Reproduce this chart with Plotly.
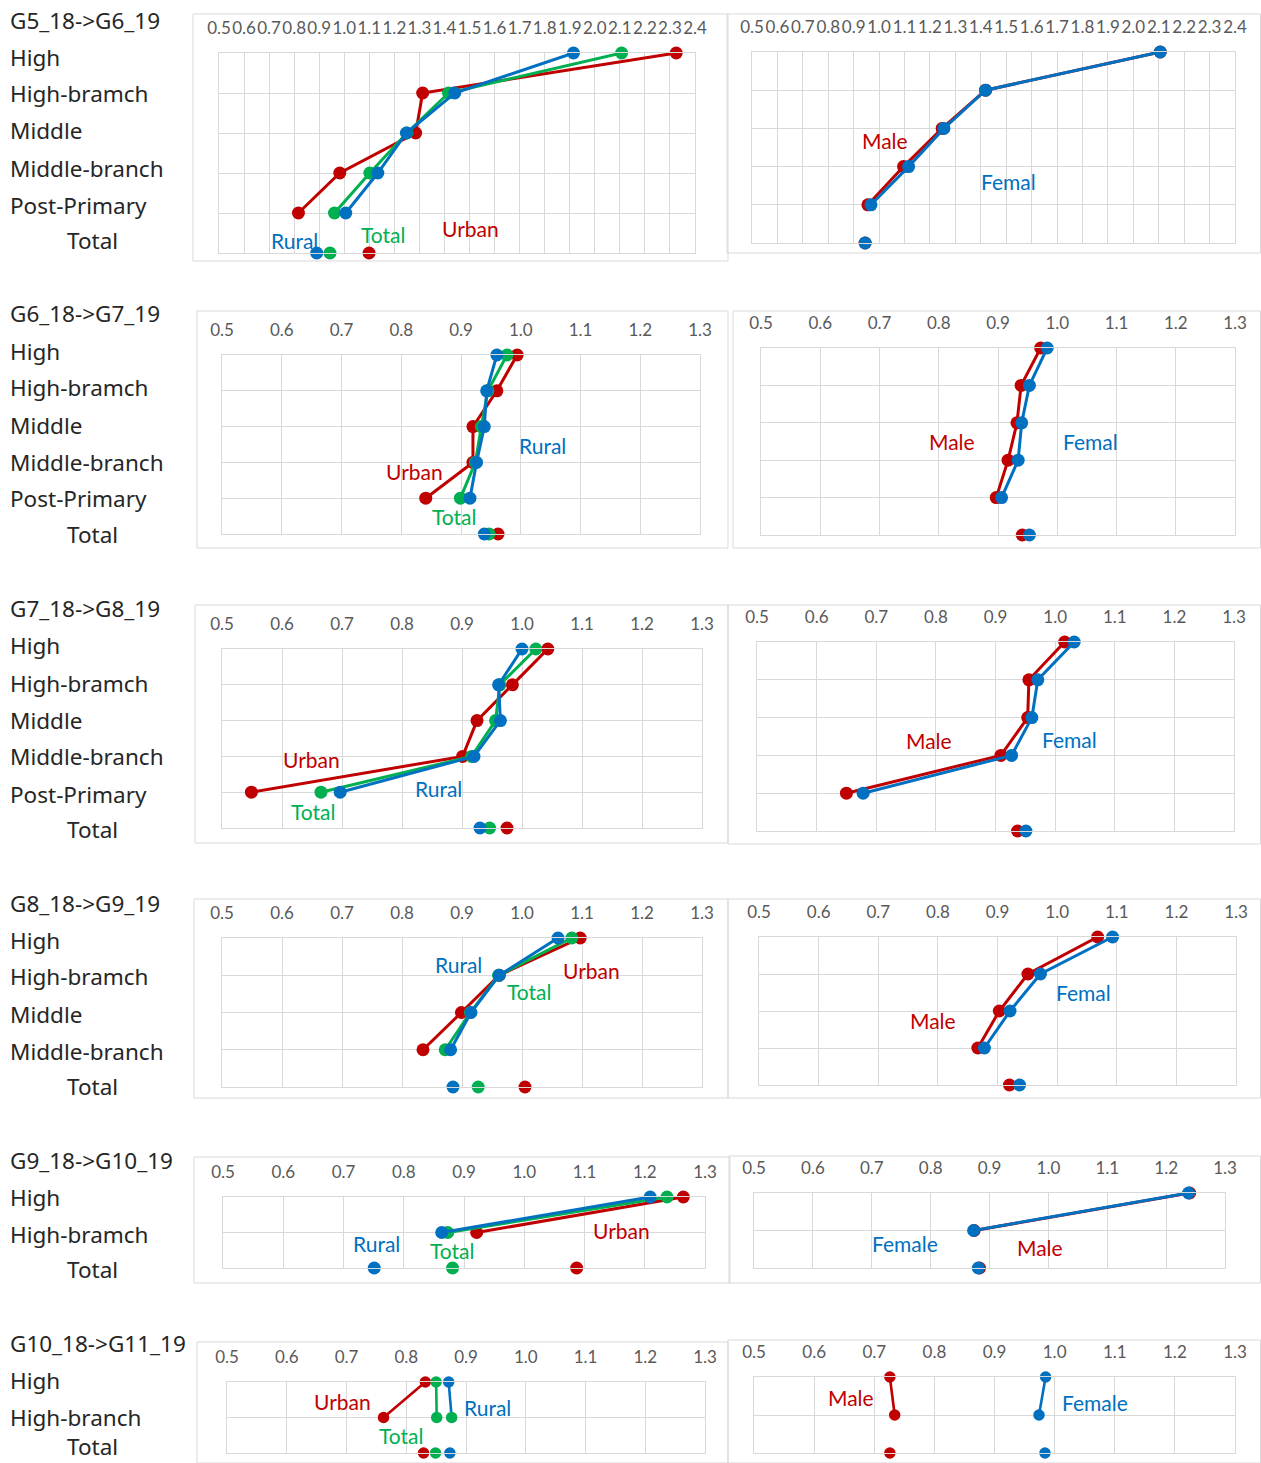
import plotly.graph_objects as go

W, H = 1261, 1463
RED, GREEN, BLUE = "#C00000", "#00B050", "#0070C0"
GRID = "#D9D9D9"

# ---- categories -------------------------------------------------------
cats_full = ["High", "High-bramch", "Middle", "Middle-branch", "Post-Primary", "Total"]
cats_g8 = ["High", "High-bramch", "Middle", "Middle-branch", "Total"]
cats_g9 = ["High", "High-bramch", "Total"]
cats_g10 = ["High", "High-branch", "Total"]

titles = ["G5_18->G6_19", "G6_18->G7_19", "G7_18->G8_19",
          "G8_18->G9_19", "G9_18->G10_19", "G10_18->G11_19"]

# ---- values (listed High ... Total) ----------------------------------
g5_urban = [2.325, 1.313, 1.285, 0.982, 0.817, 1.099]
g5_total = [2.107, 1.416, 1.250, 1.102, 0.961, 0.943]
g5_rural = [1.915, 1.441, 1.248, 1.134, 1.006, 0.890]
g5_male = [2.106, 1.419, 1.248, 1.096, 0.956, 0.945]
g5_female = [2.106, 1.419, 1.255, 1.116, 0.968, 0.945]

g6_urban = [0.994, 0.960, 0.920, 0.920, 0.841, 0.962]
g6_total = [0.977, 0.945, 0.934, 0.924, 0.899, 0.947]
g6_rural = [0.960, 0.943, 0.939, 0.926, 0.915, 0.939]
g6_male = [0.972, 0.939, 0.932, 0.917, 0.897, 0.941]
g6_female = [0.983, 0.953, 0.940, 0.934, 0.906, 0.953]

g7_urban = [1.043, 0.984, 0.925, 0.901, 0.549, 0.975]
g7_total = [1.023, 0.963, 0.956, 0.916, 0.665, 0.946]
g7_rural = [1.000, 0.961, 0.964, 0.920, 0.697, 0.930]
g7_male = [1.016, 0.956, 0.954, 0.909, 0.650, 0.937]
g7_female = [1.032, 0.971, 0.961, 0.927, 0.678, 0.951]

g8_urban = [1.097, 0.962, 0.899, 0.835, 1.005]
g8_total = [1.083, 0.961, 0.914, 0.872, 0.927]
g8_rural = [1.060, 0.962, 0.915, 0.881, 0.885]
g8_male = [1.068, 0.951, 0.903, 0.867, 0.920]
g8_female = [1.093, 0.972, 0.921, 0.878, 0.937]

g9_urban = [1.264, 0.921, 1.087]
g9_total = [1.237, 0.873, 0.881]
g9_rural = [1.209, 0.863, 0.751]
g9_male = [1.240, 0.874, 0.883]
g9_female = [1.238, 0.873, 0.881]

g10_urban = [0.832, 0.762, 0.829]
g10_total = [0.850, 0.851, 0.849]
g10_rural = [0.871, 0.876, 0.873]
g10_male = [0.726, 0.734, 0.726]
g10_female = [0.985, 0.974, 0.984]

wide_ticks = [round(0.5 + 0.1 * i, 1) for i in range(20)]
narrow_ticks = [round(0.5 + 0.1 * i, 1) for i in range(9)]

# ---- panel geometry (pixels): plot box, outer frame, label spots -------
panels = [
    # row 1
    dict(plot=(219, 695, 53, 253), frame=(193, 728, 14, 261), ticks=wide_ticks,
         series=[("Urban", g5_urban, RED), ("Total", g5_total, GREEN), ("Rural", g5_rural, BLUE)],
         labels=[("Rural", 294, 240, BLUE), ("Total", 383, 235, GREEN), ("Urban", 470, 228, RED)],
         msize=13, lw=3),
    dict(plot=(752, 1235, 52, 243), frame=(727, 1260.5, 14, 253), ticks=wide_ticks,
         series=[("Male", g5_male, RED), ("Female", g5_female, BLUE)],
         labels=[("Male", 885, 140, RED), ("Femal", 1008, 182, BLUE)],
         msize=13, lw=3),
    # row 2
    dict(plot=(222, 700, 355, 534), frame=(197, 728, 311, 548), ticks=narrow_ticks,
         series=[("Urban", g6_urban, RED), ("Total", g6_total, GREEN), ("Rural", g6_rural, BLUE)],
         labels=[("Rural", 542, 445, BLUE), ("Urban", 414, 471, RED), ("Total", 454, 516, GREEN)],
         msize=13, lw=3),
    dict(plot=(761, 1235, 348, 535), frame=(733, 1260.5, 311, 548), ticks=narrow_ticks,
         series=[("Male", g6_male, RED), ("Female", g6_female, BLUE)],
         labels=[("Male", 952, 441, RED), ("Femal", 1090, 441, BLUE)],
         msize=13, lw=3),
    # row 3
    dict(plot=(222, 702, 649, 828), frame=(195, 728, 605, 843), ticks=narrow_ticks,
         series=[("Urban", g7_urban, RED), ("Total", g7_total, GREEN), ("Rural", g7_rural, BLUE)],
         labels=[("Urban", 311, 760, RED), ("Rural", 438, 788, BLUE), ("Total", 313, 811, GREEN)],
         msize=13, lw=3),
    dict(plot=(757, 1234, 642, 831), frame=(728, 1260.5, 605, 844), ticks=narrow_ticks,
         series=[("Male", g7_male, RED), ("Female", g7_female, BLUE)],
         labels=[("Male", 929, 740, RED), ("Femal", 1069, 739, BLUE)],
         msize=13, lw=3),
    # row 4
    dict(plot=(222, 702, 938, 1087), frame=(194, 728, 899, 1098), ticks=narrow_ticks,
         series=[("Urban", g8_urban, RED), ("Total", g8_total, GREEN), ("Rural", g8_rural, BLUE)],
         labels=[("Rural", 458, 964, BLUE), ("Urban", 591, 970, RED), ("Total", 529, 991, GREEN)],
         msize=13, lw=3),
    dict(plot=(759, 1236, 937, 1085), frame=(728, 1260.5, 899, 1098), ticks=narrow_ticks,
         series=[("Male", g8_male, RED), ("Female", g8_female, BLUE)],
         labels=[("Male", 933, 1021, RED), ("Femal", 1083, 992, BLUE)],
         msize=13, lw=3),
    # row 5
    dict(plot=(223, 705, 1197, 1268), frame=(194, 730, 1157, 1283), ticks=narrow_ticks,
         series=[("Urban", g9_urban, RED), ("Total", g9_total, GREEN), ("Rural", g9_rural, BLUE)],
         labels=[("Rural", 376, 1243, BLUE), ("Total", 452, 1250, GREEN), ("Urban", 621, 1230, RED)],
         msize=13, lw=3),
    dict(plot=(754, 1225, 1193, 1268), frame=(729, 1260.5, 1156, 1283), ticks=narrow_ticks,
         series=[("Male", g9_male, RED), ("Female", g9_female, BLUE)],
         labels=[("Female", 905, 1243, BLUE), ("Male", 1040, 1247, RED)],
         msize=13, lw=3),
    # row 6
    dict(plot=(227, 705, 1382, 1453), frame=(197, 728, 1342, 1470), ticks=narrow_ticks,
         series=[("Urban", g10_urban, RED), ("Total", g10_total, GREEN), ("Rural", g10_rural, BLUE)],
         labels=[("Urban", 342, 1401, RED), ("Rural", 487, 1407, BLUE), ("Total", 401, 1435, GREEN)],
         msize=11.5, lw=2.6),
    dict(plot=(754, 1235, 1377, 1453), frame=(728, 1260.5, 1340, 1470), ticks=narrow_ticks,
         series=[("Male", g10_male, RED), ("Female", g10_female, BLUE)],
         labels=[("Male", 851, 1397, RED), ("Female", 1095, 1402, BLUE)],
         msize=11.5, lw=2.6),
]

# row-label text blocks: (title, title_y, categories, y centres)
row_blocks = [
    (titles[0], 20, cats_full, [57, 94, 131, 168, 205, 240]),
    (titles[1], 314, cats_full, [351, 388, 425, 462, 499, 534]),
    (titles[2], 608, cats_full, [645, 683, 720, 757, 794, 829]),
    (titles[3], 903, cats_g8, [940, 977, 1014, 1051, 1086]),
    (titles[4], 1160, cats_g9, [1197, 1234, 1269]),
    (titles[5], 1343, cats_g10, [1380, 1417, 1446]),
]


def px(x):
    return x / W


def py(y):
    return 1 - y / H


fig = go.Figure()
annotations = []
shapes = []
layout_axes = {}

for i, p in enumerate(panels, start=1):
    x0, x1, y0, y1 = p["plot"]
    xa = "x" if i == 1 else f"x{i}"
    ya = "y" if i == 1 else f"y{i}"
    n = len(p["series"][0][1])
    levels = list(range(n - 1, -1, -1))

    for name, vals, color in p["series"]:
        # connected line through the grade levels, Total drawn on its own
        xs = list(vals[:-1]) + [None, vals[-1]]
        ys = levels[:-1] + [None, 0]
        mcolors = [color] * len(xs)
        if i == 11 and name == "Rural":
            mcolors[1] = GREEN
        fig.add_trace(go.Scatter(
            x=xs, y=ys, name=name, mode="lines+markers", connectgaps=False,
            line=dict(color=color, width=p["lw"]),
            marker=dict(size=p["msize"], color=mcolors, line=dict(width=0)),
            cliponaxis=False, showlegend=False, hoverinfo="x+name",
            xaxis=xa, yaxis=ya))

    ticks = p["ticks"]
    layout_axes["xaxis" if i == 1 else f"xaxis{i}"] = dict(
        domain=[px(x0), px(x1)], anchor=ya, side="top",
        range=[ticks[0], ticks[-1]], tickvals=ticks,
        ticktext=[f"{t:.1f}" for t in ticks], tickangle=0,
        ticks="outside", ticklen=11, tickcolor="rgba(0,0,0,0)",
        tickfont=dict(family="Lato", size=17, color="#595959"),
        showgrid=True, gridcolor=GRID, gridwidth=1, zeroline=False,
        showline=True, mirror=True, linecolor=GRID, linewidth=1,
        automargin=False, fixedrange=True)
    layout_axes["yaxis" if i == 1 else f"yaxis{i}"] = dict(
        domain=[py(y1), py(y0)], anchor=xa, range=[0, n - 1], dtick=1,
        showticklabels=False, showgrid=True, gridcolor=GRID, gridwidth=1,
        zeroline=False, showline=True, mirror=True, linecolor=GRID,
        linewidth=1, automargin=False, fixedrange=True)

    fx0, fx1, fy0, fy1 = p["frame"]
    shapes.append(dict(type="rect", xref="paper", yref="paper",
                       x0=px(fx0), x1=px(fx1), y0=max(py(fy1), 0), y1=py(fy0),
                       line=dict(color=GRID, width=1), fillcolor="rgba(0,0,0,0)",
                       layer="below"))

    for text, lx, ly, color in p["labels"]:
        annotations.append(dict(text=text, x=px(lx), y=py(ly), xref="paper",
                                yref="paper", xanchor="center", yanchor="middle",
                                showarrow=False,
                                font=dict(family="Lato", size=21, color=color)))

LABEL_FONT = dict(family="Noto Sans", size=22.5, color="#262626")
for title, ty, cats, ys in row_blocks:
    annotations.append(dict(text=title, x=px(8), y=py(ty), xref="paper",
                            yref="paper", xanchor="left", yanchor="middle",
                            showarrow=False, font=LABEL_FONT))
    for c, yy in zip(cats, ys):
        lx = 65 if c == "Total" else 8
        annotations.append(dict(text=c, x=px(lx), y=py(yy), xref="paper",
                                yref="paper", xanchor="left", yanchor="middle",
                                showarrow=False, font=LABEL_FONT))

fig.update_layout(
    width=W, height=H, autosize=False,
    margin=dict(l=0, r=0, t=0, b=0, pad=0, autoexpand=False),
    paper_bgcolor="white", plot_bgcolor="white",
    showlegend=False, annotations=annotations, shapes=shapes,
    **layout_axes)

fig.write_html("out.html", config={"responsive": False})
